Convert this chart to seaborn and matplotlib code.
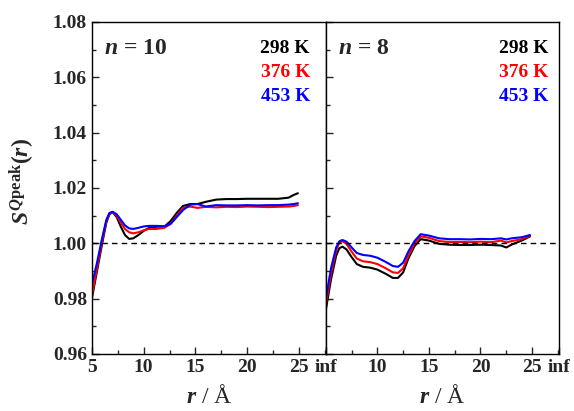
import numpy as np
import pandas as pd
import seaborn as sns
import matplotlib
matplotlib.use("Agg")
import matplotlib.pyplot as plt
from matplotlib.ticker import MultipleLocator

# temperatures and colours
temps = ["298 K", "376 K", "453 K"]
colors = ["black", "red", "blue"]

# n = 10 panel
r_n10 = [5.0, 5.5, 6.0, 6.4, 6.7, 7.0, 7.4, 7.8, 8.2, 8.6, 9.0, 9.5, 10.0, 10.5, 11.2,
         12.0, 12.6, 13.2, 13.8, 14.5, 15.2, 16.0, 17.0, 18.0, 19.0, 20.0, 21.0, 22.0,
         23.0, 24.0, 24.5, 24.9]
s_n10_298 = [0.980, 0.990, 1.000, 1.0075, 1.0105, 1.0113, 1.0095, 1.0060, 1.0030, 1.0016,
             1.0018, 1.0030, 1.0045, 1.0055, 1.0060, 1.0060, 1.0080, 1.0110, 1.0135, 1.0142,
             1.0142, 1.0150, 1.0158, 1.0160, 1.0160, 1.0161, 1.0161, 1.0161, 1.0161, 1.0165,
             1.0175, 1.0181]
s_n10_376 = [0.981, 0.991, 1.001, 1.0080, 1.0107, 1.0113, 1.0100, 1.0075, 1.0052, 1.0040,
             1.0036, 1.0040, 1.0047, 1.0052, 1.0052, 1.0056, 1.0070, 1.0100, 1.0128, 1.0133,
             1.0128, 1.0132, 1.0130, 1.0132, 1.0131, 1.0133, 1.0132, 1.0131, 1.0132, 1.0133,
             1.0135, 1.0138]
s_n10_453 = [0.985, 0.993, 1.002, 1.0085, 1.0110, 1.0114, 1.0105, 1.0085, 1.0065, 1.0054,
             1.0052, 1.0056, 1.0061, 1.0063, 1.0063, 1.0062, 1.0070, 1.0095, 1.0120, 1.0140,
             1.0142, 1.0133, 1.0138, 1.0137, 1.0137, 1.0138, 1.0137, 1.0138, 1.0138, 1.0140,
             1.0142, 1.0145]

# n = 8 panel
r_n8 = [5.0, 5.5, 6.0, 6.3, 6.6, 7.0, 7.5, 8.0, 8.6, 9.3, 10.0, 10.8, 11.5, 12.0, 12.5,
        13.0, 13.6, 14.2, 15.0, 16.0, 17.0, 18.0, 19.0, 20.0, 21.0, 22.0, 22.5, 23.0,
        24.0, 24.8]
s_n8_298 = [0.976, 0.987, 0.9955, 0.9982, 0.9988, 0.9978, 0.9950, 0.9925, 0.9915, 0.9912,
            0.9905, 0.9890, 0.9875, 0.9875, 0.9895, 0.9945, 0.9990, 1.0015, 1.0010, 0.9998,
            0.9995, 0.9994, 0.9994, 0.9995, 0.9994, 0.9992, 0.9985, 0.9995, 1.0010, 1.0025]
s_n8_376 = [0.978, 0.989, 0.9975, 1.0002, 1.0008, 0.9998, 0.9970, 0.9945, 0.9935, 0.9932,
            0.9925, 0.9910, 0.9895, 0.9893, 0.9910, 0.9955, 0.9998, 1.0025, 1.0020, 1.0008,
            1.0005, 1.0005, 1.0004, 1.0006, 1.0004, 1.0010, 1.0003, 1.0008, 1.0015, 1.0027]
s_n8_453 = [0.980, 0.991, 0.9985, 1.0007, 1.0012, 1.0006, 0.9985, 0.9965, 0.9958, 0.9955,
            0.9948, 0.9933, 0.9918, 0.9915, 0.9930, 0.9970, 1.0008, 1.0033, 1.0028, 1.0018,
            1.0015, 1.0015, 1.0014, 1.0016, 1.0015, 1.0018, 1.0014, 1.0018, 1.0022, 1.0030]

x_ticks = [5, 10, 15, 20, 25, 27.6]
x_labels_left = ["5", "10", "15", "20", "25", "inf"]
x_labels_right = ["", "10", "15", "20", "25", "inf"]


def long_df(r, series):
    parts = [pd.DataFrame({"r": r, "S": s, "T": t}) for s, t in zip(series, temps)]
    return pd.concat(parts, ignore_index=True)


df10 = long_df(r_n10, [s_n10_298, s_n10_376, s_n10_453])
df8 = long_df(r_n8, [s_n8_298, s_n8_376, s_n8_453])

sns.set_style("ticks")
plt.rcParams["font.family"] = ["Liberation Serif", "DejaVu Serif"]
plt.rcParams["font.weight"] = "bold"
plt.rcParams["mathtext.fontset"] = "custom"
plt.rcParams["mathtext.rm"] = "Liberation Serif:bold"
plt.rcParams["mathtext.it"] = "Liberation Serif:italic:bold"
plt.rcParams["mathtext.bf"] = "Liberation Serif:bold"

fig = plt.figure(figsize=(5.74, 4.11), dpi=100)
ax1 = fig.add_axes([0.160, 0.1387, 0.4077, 0.8078])
ax2 = fig.add_axes([0.5677, 0.1387, 0.4059, 0.8078])

palette = dict(zip(temps, colors))
panels = [(ax1, df10, "$n$ = 10", x_labels_left), (ax2, df8, "$n$ = 8", x_labels_right)]

for ax, df, title, xlabels in panels:
    sns.lineplot(data=df, x="r", y="S", hue="T", palette=palette, estimator=None,
                 sort=True, linewidth=1.5, legend=False, ax=ax)
    ax.axhline(1.0, color="black", linestyle=(0, (4, 3)), linewidth=1.0)
    ax.set_xlim(5, 27.6)
    ax.set_ylim(0.96, 1.08)
    ax.set_xticks(x_ticks)
    ax.set_xticklabels(xlabels)
    ax.xaxis.set_minor_locator(MultipleLocator(2.5))
    ax.set_yticks(np.arange(0.96, 1.0801, 0.02))
    ax.yaxis.set_minor_locator(MultipleLocator(0.01))
    ax.tick_params(which="both", direction="in", labelsize=14, width=1.0)
    ax.tick_params(which="major", length=5)
    ax.tick_params(which="minor", length=3)
    for sp in ax.spines.values():
        sp.set_linewidth(1.0)
        sp.set_color("black")
    ax.set_xlabel("$r$ / Å", fontsize=17)
    ax.xaxis.set_label_coords(0.5, -0.093)
    ax.set_ylabel("")
    ax.text(0.05, 0.919, title, transform=ax.transAxes, fontsize=17,
            ha="left", va="center")

ax1.set_yticklabels(["0.96", "0.98", "1.00", "1.02", "1.04", "1.06", "1.08"])
ax2.set_yticklabels([])
ax1.set_ylabel(r"$S^{Q\mathrm{peak}}(r)$", fontsize=17)
ax1.yaxis.set_label_coords(-0.235, 0.52)

for ax, xr in [(ax1, 0.932), (ax2, 0.957)]:
    for t, c, yy in zip(temps, colors, [0.919, 0.849, 0.777]):
        ax.text(xr, yy, t, color=c, transform=ax.transAxes, fontsize=14,
                ha="right", va="center")

fig.savefig("out.png", dpi=100)
